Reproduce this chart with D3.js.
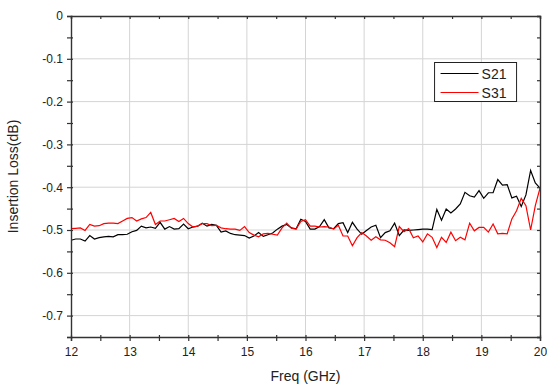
<!DOCTYPE html>
<html>
<head>
<meta charset="utf-8">
<script src="https://cdn.jsdelivr.net/npm/d3@7"></script>
<style>
  body { margin: 0; background: #fff; }
  text { font-family: "Liberation Sans", Arial, sans-serif; fill: #222; }
  .grid line { stroke: #d4d4d4; stroke-width: 1; }
</style>
</head>
<body>
<div id="chart"></div>
<script>
// frequency sweep, 12 to 20 GHz in 0.08 GHz steps
var freqStart = 12, freqStep = 0.08;

var s21 = [
  -0.524, -0.521, -0.521, -0.526, -0.513, -0.521, -0.518, -0.516, -0.515, -0.516,
  -0.511, -0.511, -0.510, -0.504, -0.501, -0.491, -0.495, -0.493, -0.496, -0.482,
  -0.498, -0.492, -0.498, -0.497, -0.486, -0.497,
  -0.493, -0.491, -0.484, -0.491, -0.487, -0.489, -0.505, -0.502, -0.508, -0.511,
  -0.512, -0.513, -0.519, -0.514, -0.506, -0.515, -0.511, -0.507, -0.498, -0.491,
  -0.487, -0.495, -0.497, -0.475, -0.480,
  -0.498, -0.498, -0.492, -0.476, -0.495, -0.497, -0.485, -0.483, -0.506, -0.482,
  -0.498, -0.510, -0.501, -0.493, -0.489, -0.518, -0.506, -0.502, -0.484, -0.513,
  -0.500, -0.501, -0.500, -0.499, -0.498,
  -0.498, -0.499, -0.452, -0.477, -0.451, -0.460, -0.451, -0.439, -0.412, -0.420,
  -0.423, -0.408, -0.426, -0.413, -0.413, -0.382, -0.395, -0.394, -0.425, -0.421,
  -0.445, -0.418, -0.361, -0.390, -0.402
];

var s31 = [
  -0.497, -0.496, -0.495, -0.501, -0.487, -0.491, -0.490, -0.485, -0.484, -0.484,
  -0.485, -0.479, -0.473, -0.471, -0.479, -0.474, -0.471, -0.459, -0.487, -0.479,
  -0.479, -0.476, -0.473, -0.480, -0.473, -0.485,
  -0.493, -0.491, -0.485, -0.485, -0.490, -0.489, -0.495, -0.497, -0.498, -0.498,
  -0.501, -0.492, -0.506, -0.512, -0.516, -0.509, -0.508, -0.510, -0.512, -0.495,
  -0.484, -0.496, -0.498, -0.480, -0.476,
  -0.491, -0.491, -0.493, -0.492, -0.493, -0.498, -0.489, -0.514, -0.514, -0.537,
  -0.518, -0.506, -0.514, -0.524, -0.516, -0.523, -0.524, -0.530, -0.539, -0.492,
  -0.504, -0.497, -0.518, -0.514, -0.528,
  -0.509, -0.517, -0.541, -0.517, -0.529, -0.505, -0.525, -0.517, -0.523, -0.484,
  -0.502, -0.494, -0.494, -0.505, -0.486, -0.509, -0.508, -0.509, -0.474, -0.455,
  -0.426, -0.443, -0.500, -0.443, -0.402
];

var seriesNames = ["S21", "S31"];
var seriesColors = ["#000000", "#ff0000"];
var xTicks = [12, 13, 14, 15, 16, 17, 18, 19, 20];
var yTicks = [0, -0.1, -0.2, -0.3, -0.4, -0.5, -0.6, -0.7];

var margin = {top: 16, right: 7, bottom: 52, left: 71};
var width = 547 - margin.left - margin.right;
var height = 389 - margin.top - margin.bottom;

var svg = d3.select('#chart')
  .append('svg')
    .attr('width', 547)
    .attr('height', 389)
  .append('g')
    .attr('transform', 'translate(' + margin.left + ',' + margin.top + ')');

var x = d3.scaleLinear().domain([12, 20]).range([0, width]);
var y = d3.scaleLinear().domain([-0.75, 0]).range([height, 0]);

// grid
svg.append('g').attr('class', 'grid')
  .selectAll('line.v').data(xTicks.slice(1, -1)).enter().append('line')
    .attr('x1', function(d) { return x(d); }).attr('x2', function(d) { return x(d); })
    .attr('y1', 0).attr('y2', height);
svg.append('g').attr('class', 'grid')
  .selectAll('line.h').data(yTicks.slice(1)).enter().append('line')
    .attr('y1', function(d) { return y(d); }).attr('y2', function(d) { return y(d); })
    .attr('x1', 0).attr('x2', width);

// series
var data = [s21, s31];
var line = d3.line()
  .x(function(d, i) { return x(freqStart + i * freqStep); })
  .y(function(d) { return y(d); });

svg.selectAll('path.series')
  .data(data)
  .enter().append('path')
    .attr('class', 'series')
    .attr('d', line)
    .attr('fill', 'none')
    .attr('stroke', function(d, i) { return seriesColors[i]; })
    .attr('stroke-width', 1.2);

// axes
var xMinor = d3.range(12, 20.01, 0.5);
var yMinor = d3.range(0, -0.751, -0.05);

function styleAxis(g) {
  g.select('.domain').attr('stroke', '#333').attr('stroke-width', 1.4);
  g.selectAll('.tick line').attr('stroke', '#333').attr('stroke-width', 1.2);
}

svg.append('g')
  .attr('transform', 'translate(0,' + height + ')')
  .call(d3.axisBottom(x).tickValues(xMinor).tickSize(4).tickPadding(6)
    .tickFormat(function(d) { return d % 1 === 0 ? d : ''; }))
  .call(styleAxis)
  .call(function(g) {
    g.selectAll('.tick line').attr('y1', -2);
    g.selectAll('.tick text').attr('font-size', 12);
  });

svg.append('g')
  .call(d3.axisLeft(y).tickValues(yMinor).tickSize(4).tickPadding(4)
    .tickFormat(function(d) {
      var r = Math.round(d * 100);
      return r % 10 === 0 ? (r === 0 ? '0' : d.toFixed(1)) : '';
    }))
  .call(styleAxis)
  .call(function(g) {
    g.selectAll('.tick line').attr('x1', 2);
    g.selectAll('.tick text').attr('font-size', 12);
  });

svg.append('g')
  .call(d3.axisTop(x).tickValues(xMinor).tickSize(-3).tickFormat(''))
  .call(styleAxis);

svg.append('g')
  .attr('transform', 'translate(' + width + ',0)')
  .call(d3.axisRight(y).tickValues(yMinor).tickSize(-3).tickFormat(''))
  .call(styleAxis);

// axis titles
svg.append('text')
  .attr('transform', 'translate(' + (width / 2) + ',' + (height + 44) + ')')
  .style('text-anchor', 'middle')
  .attr('font-size', 14)
  .text('Freq (GHz)');

svg.append('text')
  .attr('transform', 'rotate(-90)translate(-' + (height / 2) + ',-53)')
  .style('text-anchor', 'middle')
  .attr('font-size', 14)
  .text('Insertion Loss(dB)');

// legend
var legend = svg.append('g')
  .attr('transform', 'translate(' + (x(18.21) - 0.5) + ',' + 46.5 + ')');

legend.append('rect')
  .attr('width', 82).attr('height', 39)
  .attr('fill', '#fff').attr('stroke', '#222').attr('stroke-width', 1);

legend.selectAll('line')
  .data(seriesNames).enter().append('line')
    .attr('x1', 6).attr('x2', 44)
    .attr('y1', function(d, i) { return 11 + i * 19; })
    .attr('y2', function(d, i) { return 11 + i * 19; })
    .attr('stroke', function(d, i) { return seriesColors[i]; })
    .attr('stroke-width', 1.2);

legend.selectAll('text')
  .data(seriesNames).enter().append('text')
    .attr('x', 47)
    .attr('y', function(d, i) { return 16 + i * 19; })
    .attr('font-size', 14)
    .text(function(d) { return d; });
</script>
</body>
</html>
